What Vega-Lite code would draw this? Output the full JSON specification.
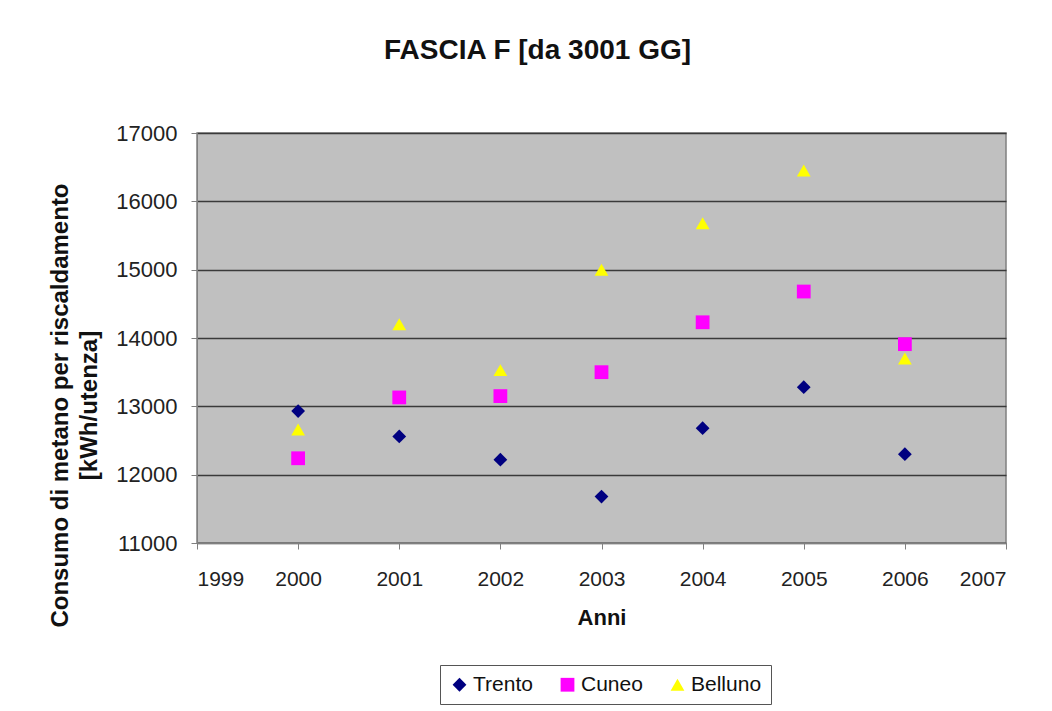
{
  "$schema": "https://vega.github.io/schema/vega-lite/v6.json",
  "autosize": {"type": "none"},
  "width": 809,
  "height": 410,
  "padding": {"left": 197, "top": 133, "right": 46, "bottom": 168},
  "background": "white",
  "title": {
    "text": "FASCIA F [da 3001 GG]",
    "font": "Liberation Sans",
    "fontSize": 28,
    "fontWeight": "bold",
    "color": "#111111",
    "anchor": "middle",
    "frame": "group",
    "dx": -64,
    "offset": 57
  },
  "config": {
    "view": {"fill": "#C0C0C0", "stroke": "#808080", "strokeWidth": 1.5},
    "axis": {
      "labelFont": "Liberation Sans",
      "titleFont": "Liberation Sans",
      "labelColor": "#222222",
      "titleColor": "#111111",
      "domainColor": "#808080",
      "tickColor": "#808080",
      "tickSize": 6
    }
  },
  "data": {
    "values": [
      {"anno": 2000, "valore": 12930, "serie": "Trento"},
      {"anno": 2001, "valore": 12560, "serie": "Trento"},
      {"anno": 2002, "valore": 12220, "serie": "Trento"},
      {"anno": 2003, "valore": 11680, "serie": "Trento"},
      {"anno": 2004, "valore": 12680, "serie": "Trento"},
      {"anno": 2005, "valore": 13280, "serie": "Trento"},
      {"anno": 2006, "valore": 12300, "serie": "Trento"},
      {"anno": 2000, "valore": 12240, "serie": "Cuneo"},
      {"anno": 2001, "valore": 13130, "serie": "Cuneo"},
      {"anno": 2002, "valore": 13150, "serie": "Cuneo"},
      {"anno": 2003, "valore": 13500, "serie": "Cuneo"},
      {"anno": 2004, "valore": 14230, "serie": "Cuneo"},
      {"anno": 2005, "valore": 14680, "serie": "Cuneo"},
      {"anno": 2006, "valore": 13910, "serie": "Cuneo"},
      {"anno": 2000, "valore": 12660, "serie": "Belluno"},
      {"anno": 2001, "valore": 14200, "serie": "Belluno"},
      {"anno": 2002, "valore": 13530, "serie": "Belluno"},
      {"anno": 2003, "valore": 15000, "serie": "Belluno"},
      {"anno": 2004, "valore": 15680, "serie": "Belluno"},
      {"anno": 2005, "valore": 16450, "serie": "Belluno"},
      {"anno": 2006, "valore": 13700, "serie": "Belluno"}
    ]
  },
  "mark": {"type": "point", "filled": true, "opacity": 1},
  "encoding": {
    "x": {
      "field": "anno",
      "type": "quantitative",
      "scale": {"domain": [1999, 2007], "nice": false, "zero": false},
      "axis": {
        "values": [1999, 2000, 2001, 2002, 2003, 2004, 2005, 2006, 2007],
        "format": "d",
        "grid": false,
        "labelFontSize": 21,
        "labelPadding": 19,
        "title": "Anni",
        "titleFontSize": 22,
        "titleFontWeight": "bold",
        "titlePadding": 18
      }
    },
    "y": {
      "field": "valore",
      "type": "quantitative",
      "scale": {"domain": [11000, 17000], "nice": false, "zero": false},
      "axis": {
        "values": [11000, 12000, 13000, 14000, 15000, 16000, 17000],
        "format": "d",
        "grid": true,
        "gridColor": "#3a3a3a",
        "gridWidth": 1.5,
        "labelFontSize": 22,
        "labelPadding": 14,
        "title": ["Consumo di metano per riscaldamento", "[kWh/utenza]"],
        "titleFontSize": 24,
        "titleFontWeight": "bold",
        "titleLineHeight": 29,
        "titlePadding": 14,
        "titleY": 272
      }
    },
    "color": {
      "field": "serie",
      "type": "nominal",
      "scale": {"domain": ["Trento", "Cuneo", "Belluno"], "range": ["#000080", "#FF00FF", "#FFFF00"]},
      "legend": {
        "title": null,
        "orient": "none",
        "legendX": 243,
        "legendY": 532,
        "direction": "horizontal",
        "strokeColor": "#555555",
        "fillColor": "white",
        "padding": 9,
        "labelFont": "Liberation Sans",
        "labelFontSize": 21,
        "labelColor": "#111111",
        "labelOffset": 3,
        "symbolSize": 130,
        "columnPadding": 24,
        "symbolOpacity": 1
      }
    },
    "shape": {
      "field": "serie",
      "type": "nominal",
      "scale": {"domain": ["Trento", "Cuneo", "Belluno"], "range": ["diamond", "square", "triangle-up"]}
    },
    "size": {
      "field": "serie",
      "type": "nominal",
      "scale": {"domain": ["Trento", "Cuneo", "Belluno"], "range": [190, 190, 170]},
      "legend": null
    }
  }
}
